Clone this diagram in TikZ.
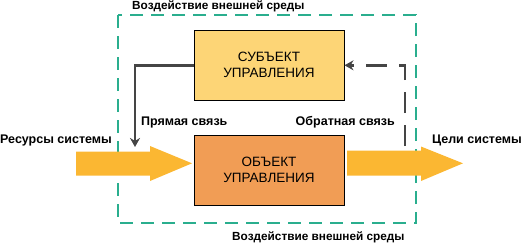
\documentclass[tikz,border=0pt]{standalone}
\usepackage{fontspec}
\setmainfont{Liberation Sans}
\usetikzlibrary{arrows.meta}
\definecolor{envgreen}{HTML}{2AAE8E}
\definecolor{subjfill}{HTML}{FDD576}
\definecolor{objfill}{HTML}{F19D55}
\definecolor{flow}{HTML}{FBB732}
\definecolor{linkgray}{HTML}{454545}
\tikzset{
  box/.style={draw=black, line width=1pt, minimum width=150pt, minimum height=70pt, align=center, font=\fontsize{13.5}{16}\selectfont, inner sep=0pt},
  lbl/.style={font=\bfseries\fontsize{12.5}{14}\selectfont, inner sep=0pt},
  envlbl/.style={font=\bfseries\fontsize{11.8}{14}\selectfont, inner sep=0pt},
  link/.style={draw=linkgray, line width=2.6pt, -{Stealth[length=9pt,width=10pt]}},
}
\begin{document}
\begin{tikzpicture}[x=1pt,y=-1pt]
\useasboundingbox (0,0) rectangle (523,244);
% environment
\draw[envgreen, line width=1.8pt, dash pattern=on 13pt off 8pt] (118,15) rectangle (416,223);
% boxes
\node[box, fill=subjfill] (subj) at (269,65) {СУБЪЕКТ\\УПРАВЛЕНИЯ};
\node[box, fill=objfill] (obj) at (269,170) {ОБЪЕКТ\\УПРАВЛЕНИЯ};
% big arrows
\fill[flow] (76,151.7) -- (150,151.7) -- (150,146) -- (192,163.3) -- (150,181) -- (150,175.7) -- (76,175.7) -- cycle;
\fill[flow] (347,150.5) -- (421,150.5) -- (421,146.5) -- (463,163.3) -- (421,181) -- (421,175.7) -- (347,175.7) -- cycle;
% coordinates
\coordinate (fwdend) at (135,147);
\coordinate (fbstart) at (405,146);
% forward link
\draw[link] (subj.west |- 0,65.3) -| (fwdend);
% feedback link
\draw[link, dash pattern=on 21pt off 12pt] (fbstart) -- (405,65.3) -- (subj.east |- 0,65.3);
% labels
\node[envlbl, anchor=west] (top) at (132,6) {Воздействие внешней среды};
\node[envlbl, anchor=west] (bot) at (232,237.5) {Воздействие внешней среды};
\node[lbl, anchor=west] (pr) at (141,122.7) {Прямая связь};
\node[lbl, anchor=east] (ob) at (395,122.7) {Обратная связь};
\node[lbl, anchor=west] (res) at (0,140.7) {Ресурсы системы};
\node[lbl, anchor=east] (goal) at (522,140.7) {Цели системы};
\end{tikzpicture}
\end{document}
